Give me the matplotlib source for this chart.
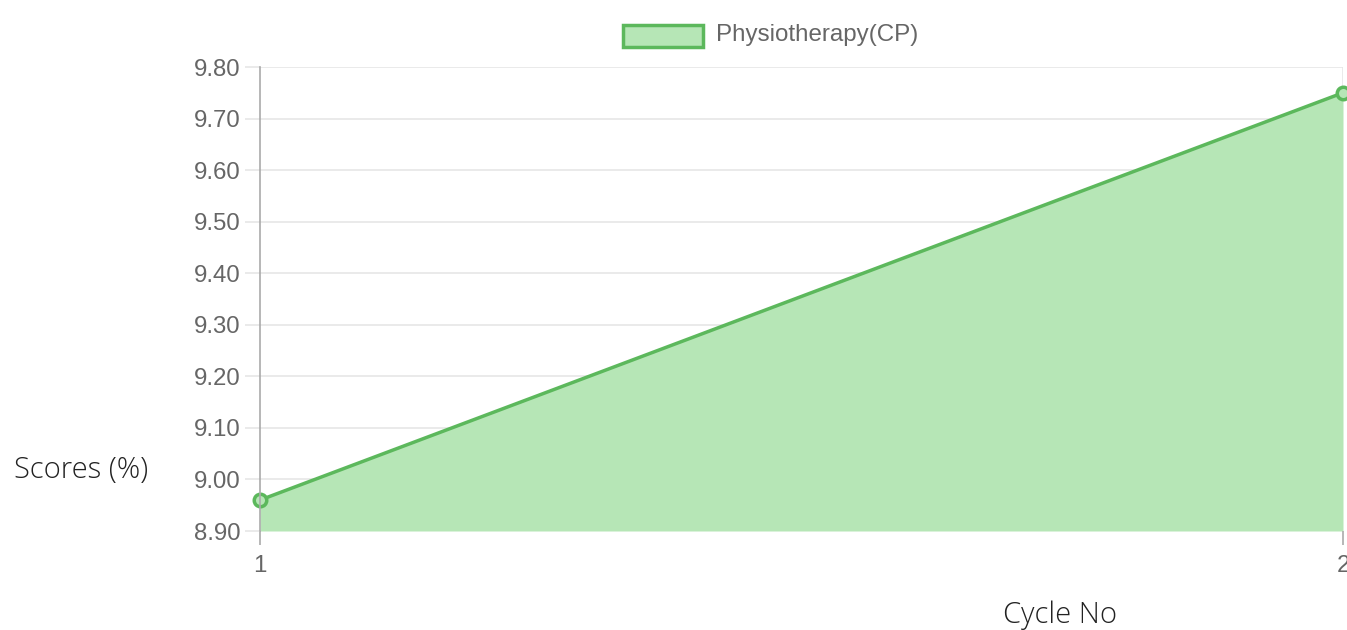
import matplotlib
matplotlib.use("Agg")
import matplotlib.pyplot as plt
from matplotlib.patches import Rectangle

cycles = [1, 2]
scores = [8.96, 9.75]
series_name = "Physiotherapy(CP)"
y_ticks = [8.90, 9.00, 9.10, 9.20, 9.30, 9.40, 9.50, 9.60, 9.70, 9.80]

line_color = "#5cb85c"
fill_color = "#b6e6b6"
grid_color = "#e6e6e6"
text_color = "#666666"

fig = plt.figure(figsize=(13.47, 6.3), dpi=100)
ax = fig.add_axes([260 / 1347, 1 - 531 / 630, (1343 - 260) / 1347, (531 - 67) / 630])

ax.fill_between(cycles, scores, 8.90, color=fill_color, linewidth=0, zorder=1)
ax.plot(cycles, scores, color=line_color, linewidth=2.5, zorder=3,
        marker="o", markersize=9, markerfacecolor=fill_color,
        markeredgecolor=line_color, markeredgewidth=2.5, clip_on=False)

ax.set_xlim(1, 2)
ax.set_ylim(8.90, 9.80)
ax.set_xticks(cycles)
ax.set_xticklabels([str(c) for c in cycles])
ax.set_yticks(y_ticks)
ax.set_yticklabels([f"{v:.2f}" for v in y_ticks])

for v in y_ticks:
    ax.axhline(v, color=grid_color, linewidth=1.2, zorder=0)
ax.axvline(2, color=grid_color, linewidth=1.2, zorder=0)

for s in ["top", "right", "bottom"]:
    ax.spines[s].set_visible(False)
ax.spines["left"].set_color("#aaaaaa")
ax.spines["left"].set_linewidth(1.2)
ax.spines["left"].set_bounds(8.90, 9.80)
ax.spines["left"].set_zorder(4)

ax.tick_params(axis="y", length=11, color=grid_color, width=1.2,
               labelsize=17.3, labelcolor=text_color, pad=3)
ax.tick_params(axis="x", length=10, color="#aaaaaa", width=1.2,
               labelsize=17.3, labelcolor=text_color, pad=7)
for lab in ax.get_xticklabels() + ax.get_yticklabels():
    lab.set_fontfamily("Liberation Sans")

fig.text(81 / 1347, 1 - 470 / 630, "Scores (%)", ha="center", va="center",
         fontsize=21, color="#222222", family="Open Sans", weight="light")
fig.text(1060 / 1347, 1 - 615 / 630, "Cycle No", ha="center", va="center",
         fontsize=21, color="#222222", family="Open Sans", weight="light")

# legend
fig.patches.append(Rectangle((623 / 1347, 1 - 47 / 630), 80 / 1347, 22 / 630,
                             transform=fig.transFigure, facecolor=fill_color,
                             edgecolor=line_color, linewidth=2.5))
fig.text(716 / 1347, 1 - 35 / 630, series_name, ha="left", va="center",
         fontsize=17.4, color=text_color, family="Liberation Sans")

fig.savefig("out.png", dpi=100)
